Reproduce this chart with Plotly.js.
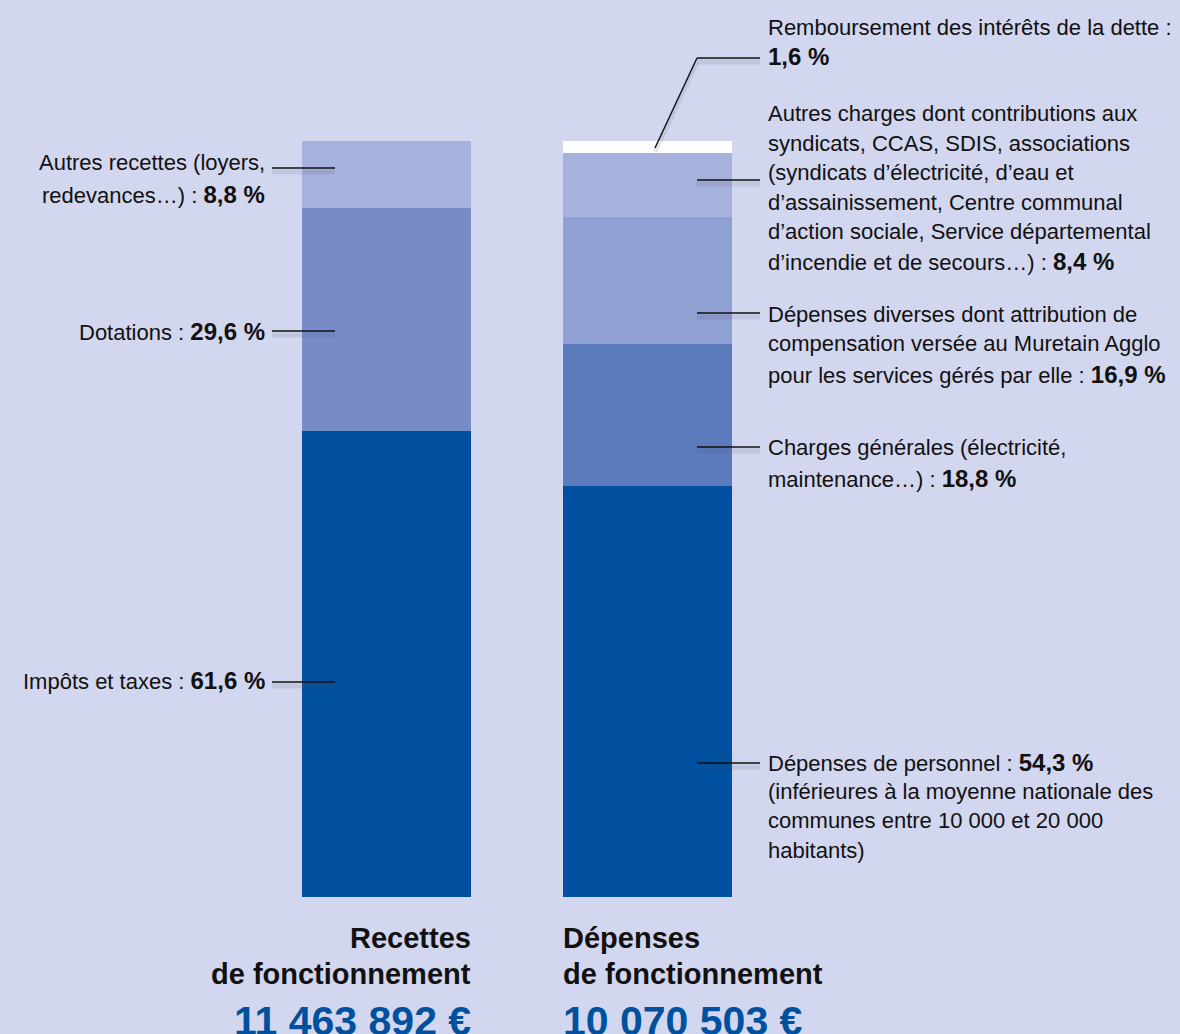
<!DOCTYPE html>
<html>
<head>
<meta charset="utf-8">
<script src="https://cdn.plot.ly/plotly-3.0.1.min.js"></script>
<style>
  html, body { margin: 0; padding: 0; background: #d2d6ee; }
  #chart { width: 1180px; height: 1034px; }
</style>
</head>
<body>
<div id="chart"></div>
<script>
// ---- Data ----
const categories = ["Recettes", "Dépenses"];
const recettesNames = ["Impôts et taxes", "Dotations", "Autres recettes"];
const recettesValues = [61.6, 29.6, 8.8];
const depensesNames = ["Dépenses de personnel", "Charges générales", "Dépenses diverses", "Autres charges", "Remboursement des intérêts de la dette"];
const depensesValues = [54.3, 18.8, 16.9, 8.4, 1.6];
const totalRecettes = "11 463 892 €";
const totalDepenses = "10 070 503 €";

const recettesColors = ["#0050a0", "#778cc6", "#a6b1dc"];
const depensesColors = ["#0050a0", "#5c7bbd", "#8fa0d2", "#a6b1dc", "#ffffff"];

const W = 1180, H = 1034, TOP = 141, BOT = 897;
const px = x => x / W;
const py = y => (BOT - y) / (BOT - TOP);

const traces = [];
recettesValues.forEach((v, i) => traces.push({
  type: "bar", x: [categories[0]], y: [v], name: recettesNames[i],
  marker: { color: recettesColors[i], line: { width: 0 } }, hoverinfo: "skip"
}));
depensesValues.forEach((v, i) => traces.push({
  type: "bar", x: [categories[1]], y: [v], name: depensesNames[i],
  marker: { color: depensesColors[i], line: { width: 0 } }, hoverinfo: "skip"
}));

const FONT = "Liberation Sans, Arial, sans-serif";
const FS = 22;
function lab(text, x, y, anchor, opts) {
  opts = opts || {};
  return {
    xref: "paper", yref: "paper", x: px(x), y: py(y), text: text,
    xanchor: anchor, yanchor: "middle", align: anchor, showarrow: false,
    borderpad: 0, borderwidth: 0,
    font: { family: FONT, size: opts.size || FS, color: opts.color || "#111111", weight: opts.weight || 400 }
  };
}
const b = (v) => "<b><span style=\"font-size:24px\">" + String(v).replace(".", ",") + " %</span></b>";

const annotations = [
  lab("Autres recettes (loyers,", 265, 163, "right"),
  lab("redevances…) : " + b(recettesValues[2]), 265, 195, "right"),
  lab("Dotations : " + b(recettesValues[1]), 265, 331, "right"),
  lab("Impôts et taxes : " + b(recettesValues[0]), 265, 680, "right"),

  lab("Remboursement des intérêts de la dette :", 768, 27, "left"),
  lab(b(depensesValues[4]), 768, 57, "left"),
  lab("Autres charges dont contributions aux", 768, 114, "left"),
  lab("syndicats, CCAS, SDIS, associations", 768, 143, "left"),
  lab("(syndicats d’électricité, d’eau et", 768, 172, "left"),
  lab("d’assainissement, Centre communal", 768, 202, "left"),
  lab("d’action sociale, Service départemental", 768, 231, "left"),
  lab("d’incendie et de secours…) : " + b(depensesValues[3]), 768, 262, "left"),
  lab("Dépenses diverses dont attribution de", 768, 314, "left"),
  lab("compensation versée au Muretain Agglo", 768, 343, "left"),
  lab("pour les services gérés par elle : " + b(depensesValues[2]), 768, 374, "left"),
  lab("Charges générales (électricité,", 768, 447, "left"),
  lab("maintenance…) : " + b(depensesValues[1]), 768, 478, "left"),
  lab("Dépenses de personnel : " + b(depensesValues[0]), 768, 762, "left"),
  lab("(inférieures à la moyenne nationale des", 768, 791, "left"),
  lab("communes entre 10 000 et 20 000", 768, 820, "left"),
  lab("habitants)", 768, 850, "left"),

  lab("<b>Recettes</b>", 471, 938, "right", { size: 29 }),
  lab("<b>de fonctionnement</b>", 471, 974, "right", { size: 29 }),
  lab("<b>" + totalRecettes + "</b>", 471, 1021, "right", { size: 41, color: "#0050a0" }),
  lab("<b>Dépenses</b>", 563, 938, "left", { size: 29 }),
  lab("<b>de fonctionnement</b>", 563, 974, "left", { size: 29 }),
  lab("<b>" + totalDepenses + "</b>", 563, 1021, "left", { size: 41, color: "#0050a0" })
];

function seg(x0, y0, x1, y1) {
  return [
    { type: "line", xref: "paper", yref: "paper", x0: px(x0), y0: py(y0 + 4), x1: px(x1), y1: py(y1 + 4),
      line: { color: "rgba(70,70,110,0.12)", width: 5 }, layer: "above" },
    { type: "line", xref: "paper", yref: "paper", x0: px(x0), y0: py(y0), x1: px(x1), y1: py(y1),
      line: { color: "#111111", width: 1.4 }, layer: "above" }
  ];
}
const shapes = [].concat(
  seg(272, 168, 335, 168),
  seg(272, 331, 335, 331),
  seg(272, 682, 335, 682),
  seg(655, 148, 697, 58),
  seg(697, 58, 760, 58),
  seg(697, 180, 760, 180),
  seg(697, 313, 760, 313),
  seg(697, 447, 760, 447),
  seg(697, 763, 760, 763)
);

// category axis: index 0 centred at x=386.5 px, spacing 261 px
const unit = 261, c0 = 386.5;
const layout = {
  width: W, height: H,
  margin: { l: 0, r: 0, t: TOP, b: H - BOT, pad: 0 },
  paper_bgcolor: "#d2d6ee", plot_bgcolor: "#d2d6ee",
  barmode: "stack", bargap: 1 - 169 / unit,
  showlegend: false,
  xaxis: { type: "category", range: [-c0 / unit, (W - c0) / unit], visible: false, fixedrange: true },
  yaxis: { range: [0, 100], visible: false, fixedrange: true },
  annotations: annotations, shapes: shapes
};
Plotly.newPlot("chart", traces, layout, { displayModeBar: false, staticPlot: true });
</script>
</body>
</html>
